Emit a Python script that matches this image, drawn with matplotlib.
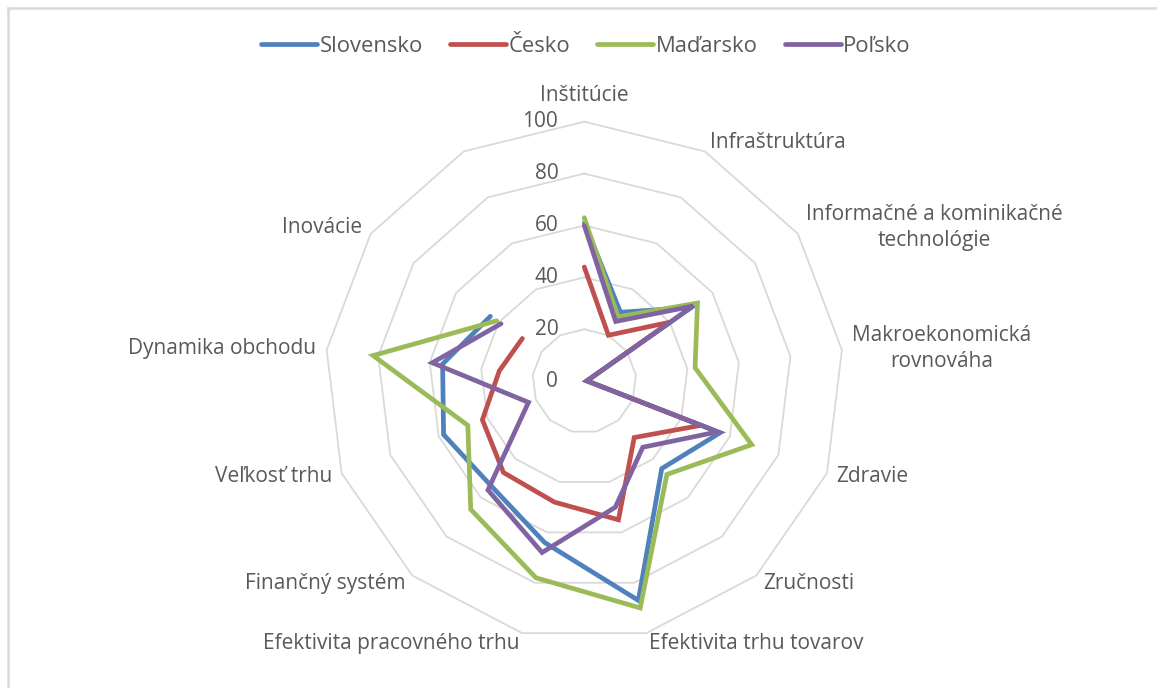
import numpy as np
import matplotlib
matplotlib.use("Agg")
import matplotlib.pyplot as plt
import matplotlib.transforms as mtransforms
from matplotlib.lines import Line2D

plt.rcParams['font.family'] = ['Open Sans', 'DejaVu Sans']

categories = ["Inštitúcie", "Infraštruktúra", "Informačné a kominikačné\ntechnológie",
              "Makroekonomická\nrovnováha", "Zdravie", "Zručnosti", "Efektivita trhu tovarov",
              "Efektivita pracovného trhu", "Finančný systém", "Veľkosť trhu",
              "Dynamika obchodu", "Inovácie", ""]

slovensko = [61, 30, 50, 1, 56, 45, 87, 64, 54, 58, 55, 44, np.nan]
cesko     = [44, 20, 40, 1, 48, 29, 55, 48, 47, 42, 33, 29, np.nan]
madarsko  = [63, 28, 53, 43, 69, 48, 90, 78, 66, 48, 82, 41, np.nan]
polsko    = [60, 26, 51, 1, 55, 34, 50, 68, 56, 23, 59, 39, np.nan]

series_names = ["Slovensko", "Česko", "Maďarsko", "Poľsko"]
series_vals = [slovensko, cesko, madarsko, polsko]
colors = ["#4F81BD", "#C0504D", "#9BBB59", "#8064A2"]
ticks = [0, 20, 40, 60, 80, 100]

W, H = 1157, 688
fig = plt.figure(figsize=(W / 100, H / 100), dpi=100)

cx, cy, R = 584.3, 381.2, 259.5
ax = fig.add_axes([(cx - R) / W, (H - cy - R) / H, 2 * R / W, 2 * R / H], projection='polar')
ax.set_theta_zero_location('N')
ax.set_theta_direction(-1)
ax.set_ylim(0, 100)
ax.grid(False)
ax.spines['polar'].set_visible(False)
ax.set_xticks([])
ax.set_yticks([])
ax.patch.set_alpha(0)

n = len(categories)
theta = np.arange(n) * 2 * np.pi / n
theta_closed = np.append(theta, theta[0])

# polygonal gridlines
for t in ticks[1:]:
    ax.plot(theta_closed, [t] * (n + 1), color="#D9D9D9", lw=1.3, zorder=1, clip_on=False)

# data
for name, vals, c in zip(series_names, series_vals, colors):
    ax.plot(theta, vals, color=c, lw=3.4, solid_joinstyle='miter', solid_capstyle='round',
            zorder=3, label=name, clip_on=False)

# tick labels
off = mtransforms.offset_copy(ax.transData, fig=fig, x=-26, y=0, units='dots')
for t in ticks:
    ax.text(0, t, str(t), transform=off, ha='right', va='center', fontsize=15,
            color="#595959", zorder=4)

# category labels
for i, (ang, lab) in enumerate(zip(theta, categories)):
    if i == 0:
        ax.text(ang, 110, lab, ha='center', va='center', fontsize=15, color="#595959")
        continue
    s = np.sin(ang)
    ha = 'left' if s > 0 else 'right'
    ax.text(ang, 104, lab, ha=ha, va='center', fontsize=15, color="#595959",
            multialignment='center', linespacing=1.3)

handles = [Line2D([0], [0], color=c, lw=3.4, solid_capstyle='round') for c in colors]
fig.legend(handles, series_names, loc='center', bbox_to_anchor=(586 / W, 1 - 46 / H), ncol=4,
           frameon=False, fontsize=15.8, handlelength=2.55, handletextpad=0.1,
           columnspacing=1.25, labelcolor="#595959")

# chart border (top and left visible)
fig.add_artist(Line2D([8 / W, 1], [1 - 7.5 / H, 1 - 7.5 / H], transform=fig.transFigure,
                      color="#D9D9D9", lw=1.8))
fig.add_artist(Line2D([8 / W, 8 / W], [0, 1 - 7.5 / H], transform=fig.transFigure,
                      color="#D9D9D9", lw=1.8))

fig.savefig("out.png", dpi=100, facecolor="white")
